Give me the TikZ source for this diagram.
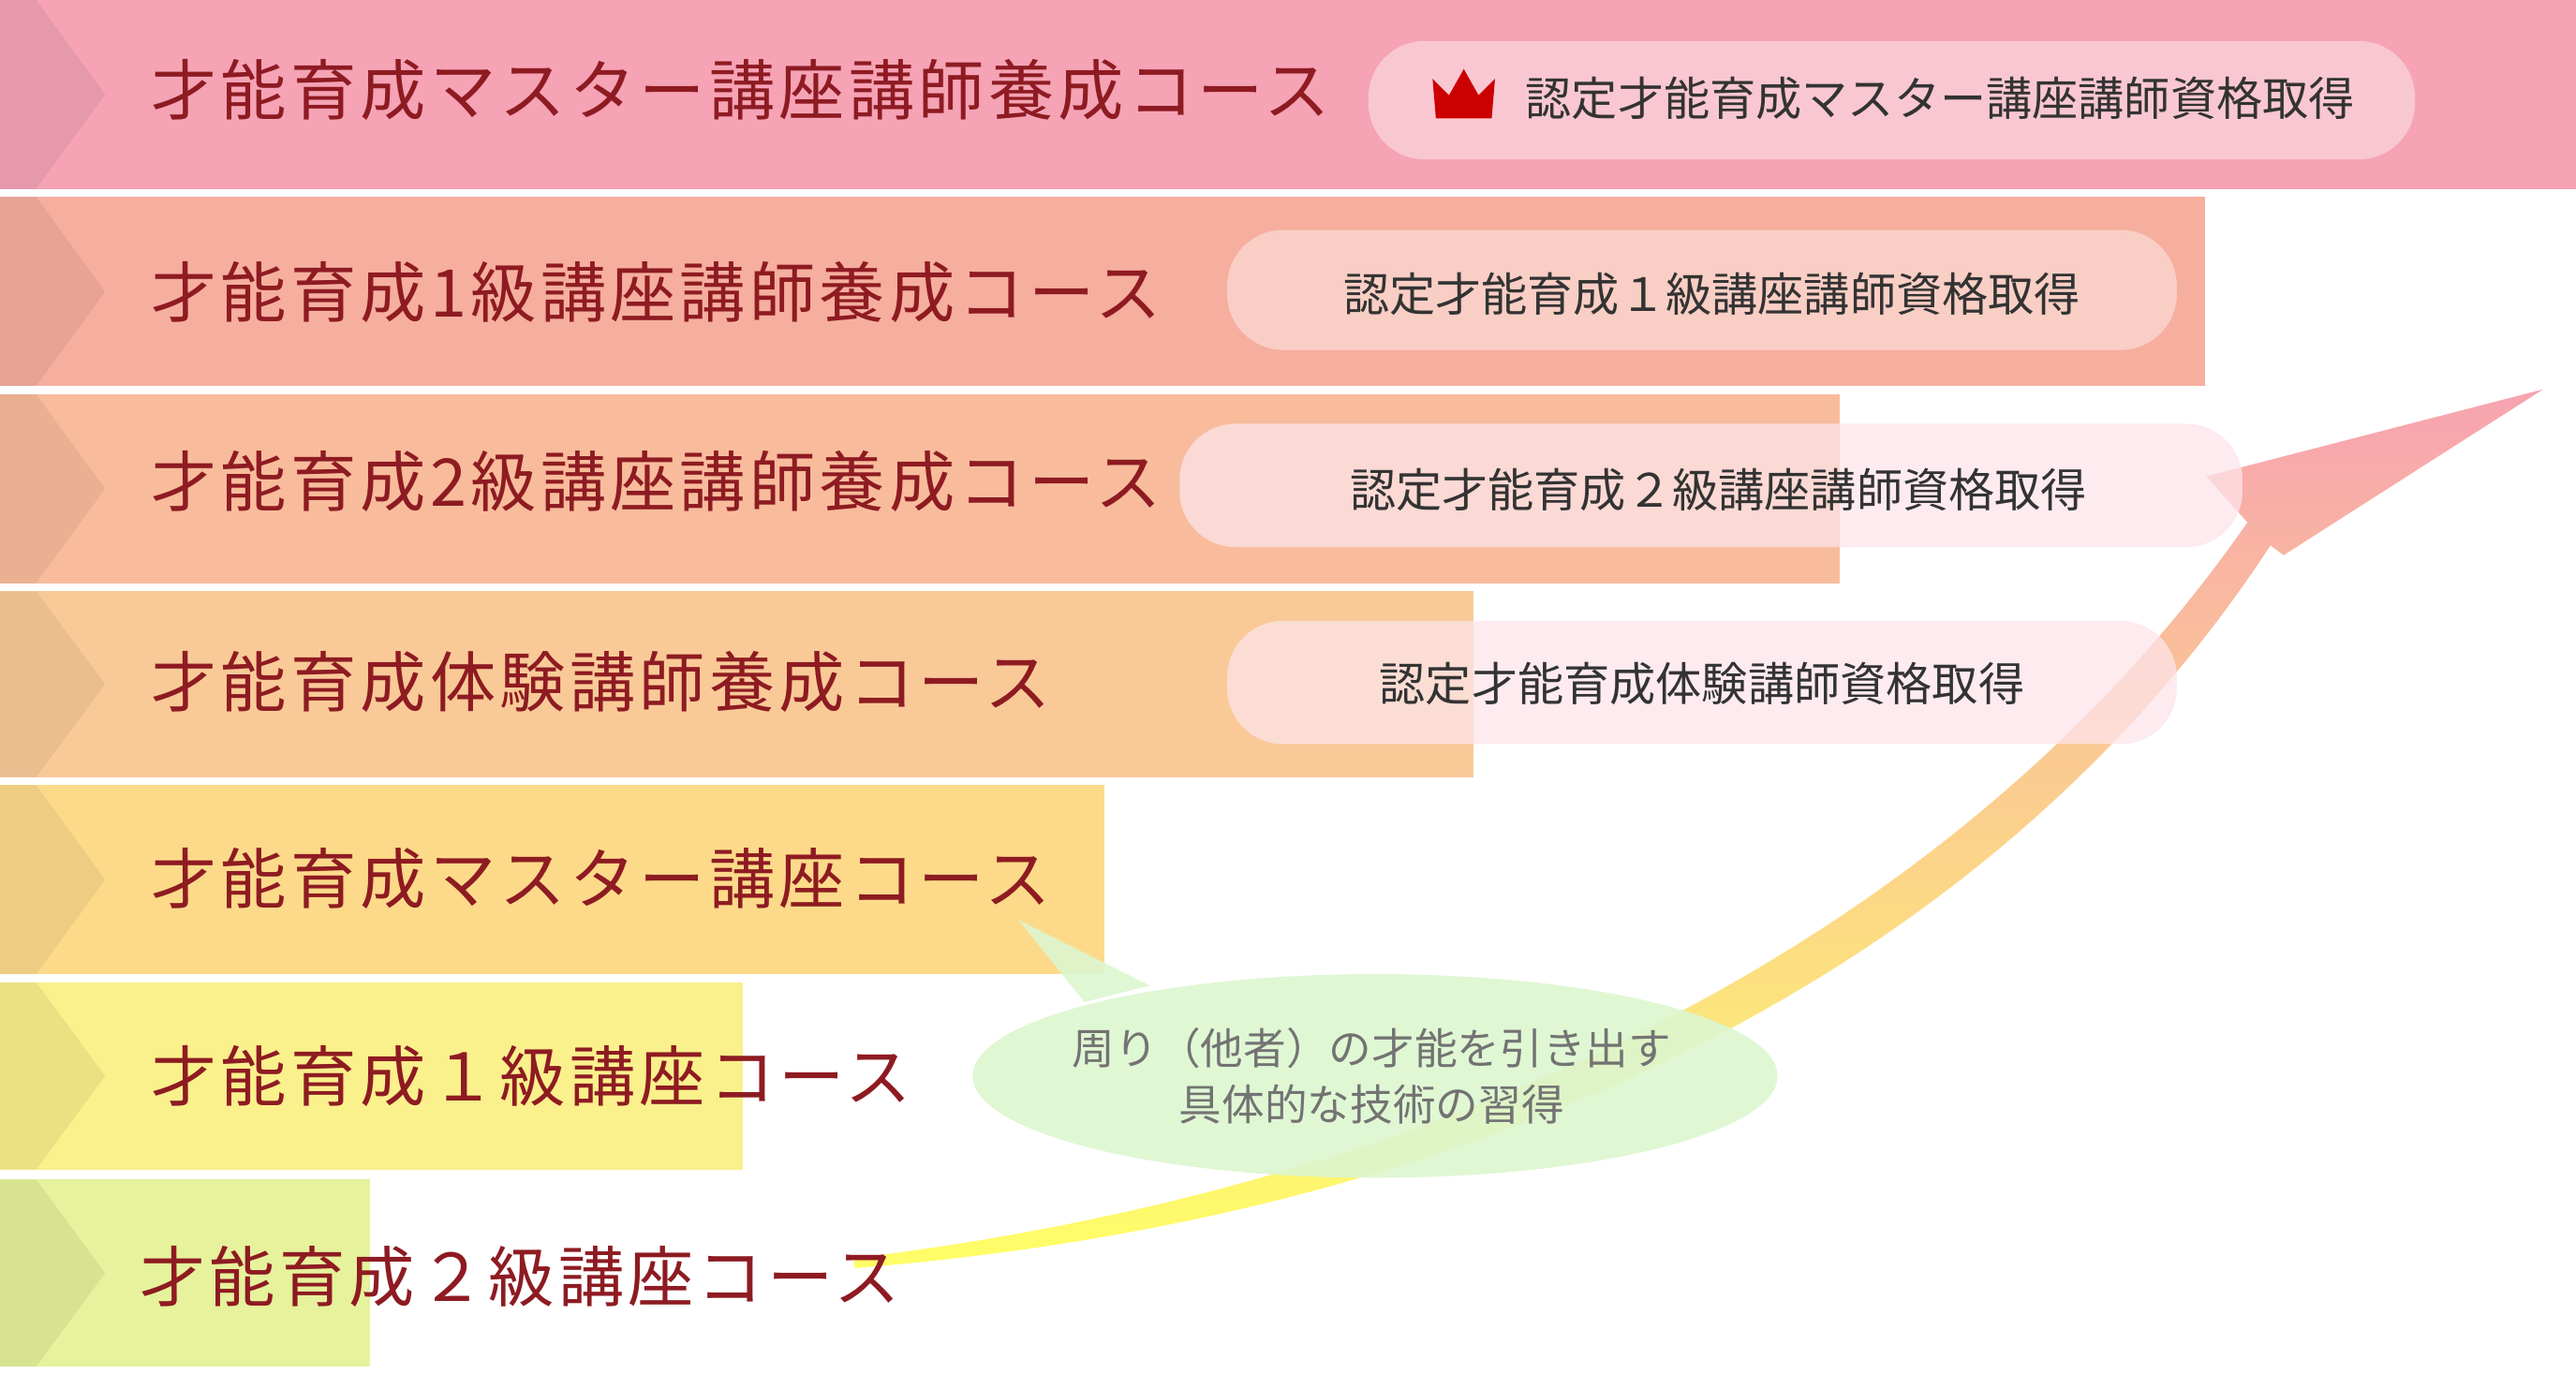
\documentclass[tikz,border=0pt]{standalone}
\usepackage{fontspec}
\setmainfont{Noto Sans CJK JP}
\newfontfamily\cjk{Noto Sans CJK JP}
\newfontfamily\cjkw[LetterSpace=6]{Noto Sans CJK JP}
\usetikzlibrary{shapes.geometric}
\definecolor{cA}{HTML}{F5A3B5}
\definecolor{cB}{HTML}{F6AE9F}
\definecolor{cC}{HTML}{F8BC9C}
\definecolor{cD}{HTML}{F9CA98}
\definecolor{cE}{HTML}{FCDA8A}
\definecolor{cF}{HTML}{FAF08C}
\definecolor{cG}{HTML}{E6F29C}
\definecolor{tred}{HTML}{8E1B22}
\definecolor{pill}{HTML}{FBD2DA}
\definecolor{bub}{HTML}{DDF6CF}
\tikzset{
 chev/.style={fill=black,fill opacity=0.06,draw=none},
 title/.style={anchor=west,text=tred,font=\cjkw\fontsize{20}{24}\selectfont},
 pillbox/.style={fill=white,fill opacity=0.4,draw=none,rounded corners=17pt},
 ptext/.style={text=black!80,font=\cjk\fontsize{14}{17}\selectfont},
}
\begin{document}
\begin{tikzpicture}[x=0.01754cm,y=-0.01754cm]
\useasboundingbox (0,0) rectangle (1568,836);
\fill[cA] (0,0) rectangle (1568,115);
\fill[cB] (0,120) rectangle (1342,235);
\fill[cC] (0,240) rectangle (1120,355);
\fill[cD] (0,360) rectangle (897,473);
\fill[cE] (0,478) rectangle (672,593);
\fill[cF] (0,598) rectangle (452,712);
\fill[cG] (0,718) rectangle (225,832);
\foreach \t/\b in {0/115,120/235,240/355,360/473,478/593,598/712,718/832}{
 \fill[chev] (0,\t) -- (22,\t) -- (64,{(\t+\b)/2}) -- (22,\b) -- (0,\b) -- cycle;}
\shade[right color=yellow!70!white, left color=cA!90!red, shading angle=0, opacity=0.85]
 (520,766) .. controls (900,720) and (1200,560) .. (1368,318)
 -- (1343,290) -- (1548,237) -- (1390,338) -- (1382,332)
 .. controls (1220,580) and (920,740) .. (520,772) -- cycle;
\fill[pillbox] (833,25) rectangle (1470,97);
\fill[pillbox] (747,140) rectangle (1325,213);
\fill[pillbox,fill=pill!60,fill opacity=0.75] (718,258) rectangle (1365,333);
\fill[pillbox,fill=pill!60,fill opacity=0.75] (747,378) rectangle (1325,453);
\fill[red!80!black] (874,72) -- (872,48) -- (882,58) -- (891,42) -- (900,58) -- (910,48) -- (908,72) -- cycle;
\fill[bub,opacity=0.9] (620,560) -- (700,600) -- (660,610) -- cycle;
\fill[bub,opacity=0.9] (837,655) ellipse [x radius=245, y radius=62];
\node[title] (t1) at (85,55) {才能育成マスター講座講師養成コース};
\node[title] (t2) at (85,178) {才能育成1級講座講師養成コース};
\node[title] (t3) at (85,293) {才能育成2級講座講師養成コース};
\node[title] (t4) at (85,415) {才能育成体験講師養成コース};
\node[title] (t5) at (85,535) {才能育成マスター講座コース};
\node[title] (t6) at (85,655) {才能育成１級講座コース};
\node[title] (t7) at (78,777) {才能育成２級講座コース};
\node[ptext] (p1) at (1181,60) {認定才能育成マスター講座講師資格取得};
\node[ptext] (p2) at (1042,179) {認定才能育成１級講座講師資格取得};
\node[ptext] (p3) at (1046,298) {認定才能育成２級講座講師資格取得};
\node[ptext] (p4) at (1036,416) {認定才能育成体験講師資格取得};
\node[ptext,text=black!55,align=center,font=\cjk\fontsize{13}{17}\selectfont] (b) at (835,655) {周り（他者）の才能を引き出す\\具体的な技術の習得};
\end{tikzpicture}
\end{document}
